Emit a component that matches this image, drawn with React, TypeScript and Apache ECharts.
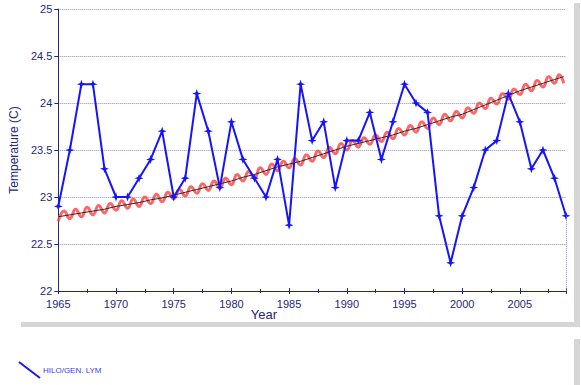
import React, { useEffect, useRef } from "react";
import * as echarts from "echarts";

const years = [
  1965, 1966, 1967, 1968, 1969, 1970, 1971, 1972, 1973, 1974,
  1975, 1976, 1977, 1978, 1979, 1980, 1981, 1982, 1983, 1984,
  1985, 1986, 1987, 1988, 1989, 1990, 1991, 1992, 1993, 1994,
  1995, 1996, 1997, 1998, 1999, 2000, 2001, 2002, 2003, 2004,
  2005, 2006, 2007, 2008, 2009,
];
const hiloTemps = [
  22.9, 23.5, 24.2, 24.2, 23.3, 23.0, 23.0, 23.2, 23.4, 23.7,
  23.0, 23.2, 24.1, 23.7, 23.1, 23.8, 23.4, 23.2, 23.0, 23.4,
  22.7, 24.2, 23.6, 23.8, 23.1, 23.6, 23.6, 23.9, 23.4, 23.8,
  24.2, 24.0, 23.9, 22.8, 22.3, 22.8, 23.1, 23.5, 23.6, 24.1,
  23.8, 23.3, 23.5, 23.2, 22.8,
];

// smoothed trend (black), read at each year
const trendYears = [
  1965, 1966, 1967, 1968, 1969, 1970, 1971, 1972, 1973, 1974,
  1975, 1976, 1977, 1978, 1979, 1980, 1981, 1982, 1983, 1984,
  1985, 1986, 1987, 1988, 1989, 1990, 1991, 1992, 1993, 1994,
  1995, 1996, 1997, 1998, 1999, 2000, 2001, 2002, 2003, 2004,
  2005, 2006, 2007, 2008, 2008.8,
];
const trendValues = [
  22.79, 22.81, 22.83, 22.85, 22.87, 22.9, 22.92, 22.94, 22.97, 22.99,
  23.02, 23.05, 23.08, 23.11, 23.14, 23.17, 23.21, 23.24, 23.28, 23.32,
  23.35, 23.38, 23.42, 23.46, 23.5, 23.54, 23.57, 23.6, 23.63, 23.66,
  23.7, 23.73, 23.77, 23.81, 23.85, 23.88, 23.93, 23.98, 24.03, 24.08,
  24.13, 24.17, 24.21, 24.25, 24.28,
];

// seasonal curve (red): troughs at whole years, peaks at mid-years
const seasonalYears = [
  1965, 1965.5, 1966, 1966.5, 1967, 1967.5, 1968, 1968.5, 1969, 1969.5,
  1970, 1970.5, 1971, 1971.5, 1972, 1972.5, 1973, 1973.5, 1974, 1974.5,
  1975, 1975.5, 1976, 1976.5, 1977, 1977.5, 1978, 1978.5, 1979, 1979.5,
  1980, 1980.5, 1981, 1981.5, 1982, 1982.5, 1983, 1983.5, 1984, 1984.5,
  1985, 1985.5, 1986, 1986.5, 1987, 1987.5, 1988, 1988.5, 1989, 1989.5,
  1990, 1990.5, 1991, 1991.5, 1992, 1992.5, 1993, 1993.5, 1994, 1994.5,
  1995, 1995.5, 1996, 1996.5, 1997, 1997.5, 1998, 1998.5, 1999, 1999.5,
  2000, 2000.5, 2001, 2001.5, 2002, 2002.5, 2003, 2003.5, 2004, 2004.5,
  2005, 2005.5, 2006, 2006.5, 2007, 2007.5, 2008, 2008.4, 2008.8,
];
const seasonalValues = [
  22.74, 22.85, 22.77, 22.87, 22.79, 22.89, 22.81, 22.91, 22.83, 22.93,
  22.86, 22.96, 22.88, 22.98, 22.9, 23.0, 22.93, 23.03, 22.95, 23.05,
  22.98, 23.08, 23.01, 23.11, 23.04, 23.14, 23.07, 23.17, 23.1, 23.2,
  23.13, 23.24, 23.17, 23.27, 23.2, 23.31, 23.24, 23.35, 23.28, 23.38,
  23.31, 23.41, 23.34, 23.45, 23.38, 23.49, 23.42, 23.53, 23.46, 23.57,
  23.5, 23.6, 23.53, 23.63, 23.56, 23.66, 23.59, 23.69, 23.62, 23.73,
  23.66, 23.76, 23.69, 23.8, 23.73, 23.84, 23.77, 23.88, 23.81, 23.91,
  23.84, 23.95, 23.89, 24.0, 23.94, 24.05, 23.99, 24.1, 24.04, 24.15,
  24.09, 24.2, 24.13, 24.24, 24.17, 24.28, 24.21, 24.3, 24.21,
];

const yTicks = ["22", "22.5", "23", "23.5", "24", "24.5", "25"];

const NAVY = "#26267a";
const FONT = "'Liberation Sans', Arial, sans-serif";

export default function App() {
  const ref = useRef<HTMLDivElement>(null);

  useEffect(() => {
    if (!ref.current) return;
    const chart = echarts.init(ref.current, undefined, { renderer: "svg" });

    const xCommon = {
      type: "value" as const,
      min: 1965,
      max: 2009,
      interval: 5,
      splitLine: { show: false },
    };

    chart.setOption({
      animation: false,
      backgroundColor: "#ffffff",
      grid: { left: 43, right: 15, top: 9, bottom: 94, containLabel: false },
      xAxis: [
        {
          ...xCommon,
          position: "bottom",
          axisLine: { show: true, lineStyle: { color: NAVY, width: 1 } },
          axisTick: { show: true, length: 3, lineStyle: { color: NAVY } },
          minorTick: { show: true, splitNumber: 2, length: 2, lineStyle: { color: NAVY } },
          axisLabel: {
            color: NAVY,
            fontSize: 11,
            fontFamily: FONT,
            margin: 7,
            showMaxLabel: false,
            formatter: (v: number) => String(Math.round(v)),
          },
        },
        {
          ...xCommon,
          position: "bottom",
          offset: 0,
          axisLine: { show: false },
          axisTick: { show: true, inside: true, length: 3, lineStyle: { color: NAVY } },
          minorTick: { show: true, splitNumber: 2, length: 2, lineStyle: { color: NAVY } },
          axisLabel: { show: false },
        },
      ],
      yAxis: {
        type: "value",
        min: 22,
        max: 25,
        interval: 0.5,
        name: "Temperature (C)",
        nameLocation: "middle",
        nameGap: 27,
        nameTextStyle: { color: NAVY, fontSize: 12, fontFamily: FONT },
        axisLine: { show: true, lineStyle: { color: NAVY, width: 1 } },
        axisTick: { show: true, length: 4, lineStyle: { color: NAVY } },
        axisLabel: {
          color: NAVY,
          fontSize: 11,
          fontFamily: FONT,
          margin: 6,
          formatter: (v: number) => {
            const i = Math.round((v - 22) / 0.5);
            return yTicks[i] ?? "";
          },
        },
        splitLine: {
          show: true,
          lineStyle: { color: "#8c8cc8", width: 1, type: "dotted" },
        },
      },
      series: [
        {
          type: "line",
          name: "seasonal",
          data: seasonalYears.map((y, i) => [y, seasonalValues[i]]),
          smooth: 0.5,
          showSymbol: false,
          symbol: "none",
          lineStyle: { color: "#ff4a4a", width: 3, opacity: 0.85 },
          z: 2,
          silent: true,
        },
        {
          type: "line",
          name: "trend",
          data: trendYears.map((y, i) => [y, trendValues[i]]),
          showSymbol: false,
          symbol: "none",
          lineStyle: { color: "#2b2b2b", width: 1 },
          z: 3,
          silent: true,
        },
        {
          type: "line",
          name: "HILO/GEN. LYM",
          data: years.map((y, i) => [y, hiloTemps[i]]),
          symbol: "path://M4,0 L5,3 L8,4 L5,5 L4,8 L3,5 L0,4 L3,3 Z",
          symbolSize: 9,
          showSymbol: true,
          itemStyle: { color: "#1414ff" },
          lineStyle: { color: "#1414ff", width: 2 },
          z: 4,
          markLine: {
            silent: true,
            symbol: "none",
            label: { show: false },
            lineStyle: { color: "#8080e0", width: 1, type: "dotted" },
            data: [[{ coord: [2009, 22.8] }, { coord: [2009, 22] }]],
          },
        },
      ],
      graphic: [
        { type: "rect", shape: { x: 574, y: 3, width: 6, height: 324 }, style: { fill: "#d6d6d6" } },
        { type: "rect", shape: { x: 21, y: 322, width: 559, height: 5 }, style: { fill: "#d6d6d6" } },
        { type: "rect", shape: { x: 574, y: 339, width: 6, height: 46 }, style: { fill: "#d6d6d6" } },
        {
          type: "text",
          x: 264,
          y: 314,
          style: {
            text: "Year",
            fill: NAVY,
            fontSize: 13,
            fontFamily: FONT,
            textAlign: "center",
            textVerticalAlign: "middle",
          },
        },
        {
          type: "line",
          shape: { x1: 19, y1: 362, x2: 40, y2: 378 },
          style: { stroke: "#1414ff", lineWidth: 2 },
        },
        {
          type: "text",
          x: 43,
          y: 370,
          style: {
            text: "HILO/GEN. LYM",
            fill: "#3a3aff",
            fontSize: 8,
            fontFamily: FONT,
            textAlign: "left",
            textVerticalAlign: "middle",
          },
        },
      ],
    });

    return () => chart.dispose();
  }, []);

  return (
    <div
      ref={ref}
      style={{ position: "fixed", left: 0, top: 0, width: 581, height: 385 }}
    />
  );
}
